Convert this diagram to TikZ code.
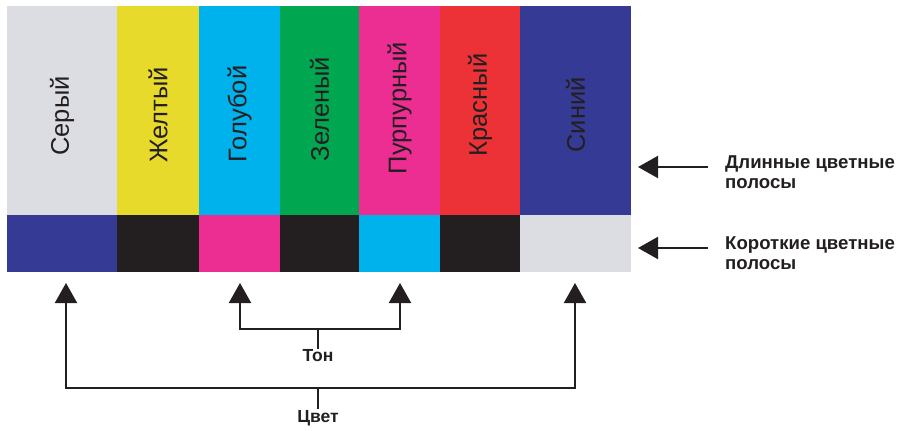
\documentclass[tikz,border=0pt]{standalone}
\usepackage{fontspec}
\setmainfont{Liberation Sans}
\usepackage{xcolor}
\usepackage{tikz}
\usetikzlibrary{arrows.meta}
\definecolor{bargray}{HTML}{DCDDE2}
\definecolor{baryellow}{HTML}{E8DA2A}
\definecolor{barcyan}{HTML}{00B2EC}
\definecolor{bargreen}{HTML}{00A650}
\definecolor{barmagenta}{HTML}{EC2D92}
\definecolor{barred}{HTML}{EC3237}
\definecolor{barblue}{HTML}{353A94}
\definecolor{barblack}{HTML}{231F20}
\definecolor{ink}{HTML}{231F20}
\tikzset{
  barlabel/.style={rotate=90, font=\fontsize{25.5}{28}\selectfont, text=ink, inner sep=0pt},
  sidelabel/.style={anchor=west, align=left, font=\bfseries\fontsize{18.6}{20}\selectfont, text=ink, inner sep=0pt},
  groupname/.style={font=\bfseries\fontsize{17.5}{20}\selectfont, text=ink, inner sep=1pt},
  link/.style={line width=2pt, draw=ink},
  pointer/.style={link, -{Triangle[length=20pt,width=22pt]}}
}
\newcommand{\ColorBar}[6]{% x0,x1,top colour,bottom colour,label,label y
  \fill[#3] (#1,6) rectangle (#2,215);
  \fill[#4] (#1,215) rectangle (#2,272);
  \node[barlabel] at ({(#1+#2)/2},#6) {#5};
}

\begin{document}
\begin{tikzpicture}[x=1pt,y=-1pt]
  \useasboundingbox (0,0) rectangle (903,431);
  \ColorBar{7}{117}{bargray}{barblue}{Серый}{116}
  \ColorBar{117}{199}{baryellow}{barblack}{Желтый}{115}
  \ColorBar{199}{280}{barcyan}{barmagenta}{Голубой}{114}
  \ColorBar{280}{359}{bargreen}{barblack}{Зеленый}{109}
  \ColorBar{359}{440}{barmagenta}{barcyan}{Пурпурный}{108}
  \ColorBar{440}{520}{barred}{barblack}{Красный}{105}
  \ColorBar{520}{631}{barblue}{bargray}{Синий}{115}

  % right-hand labels
  \node[sidelabel] (long) at (725,172) {Длинные цветные\\полосы};
  \node[sidelabel] (short) at (725,253) {Короткие цветные\\полосы};
  \coordinate (longtip) at (638,167);
  \coordinate (shorttip) at (638,248);
  \draw[pointer] (long.west |- longtip) ++(-17,0) -- (longtip);
  \draw[pointer] (short.west |- shorttip) ++(-17,0) -- (shorttip);

  % groups under the bars
  \coordinate (tipgray) at (66,283);
  \coordinate (tipcyan) at (240,283);
  \coordinate (tipmagenta) at (400,283);
  \coordinate (tipblue) at (575,283);
  \node[groupname] (ton) at (318,356) {Тон};
  \node[groupname] (cvet) at (318,418) {Цвет};
  \coordinate (tonjoin) at (318,329);
  \coordinate (cvetjoin) at (318,388);
  \draw[link] (ton.north) -- (tonjoin);
  \draw[pointer] (tonjoin) -| (tipcyan);
  \draw[pointer] (tonjoin) -| (tipmagenta);
  \draw[link] (cvet.north) -- (cvetjoin);
  \draw[pointer] (cvetjoin) -| (tipgray);
  \draw[pointer] (cvetjoin) -| (tipblue);
\end{tikzpicture}
\end{document}
